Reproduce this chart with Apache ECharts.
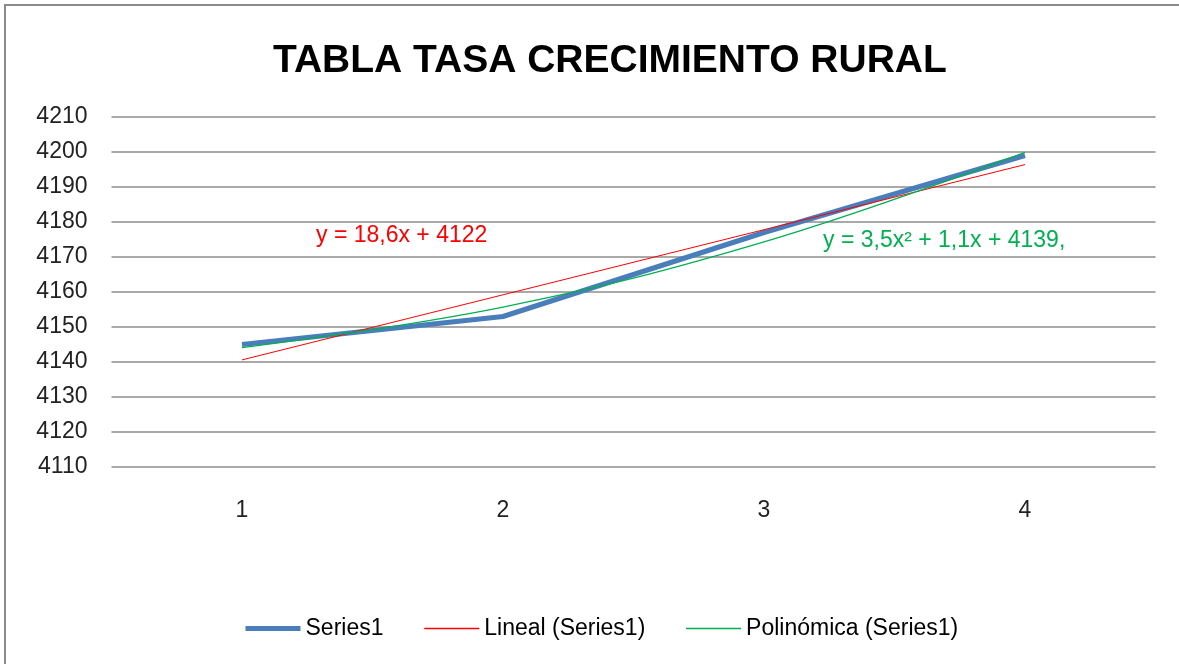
<!DOCTYPE html>
<html>
<head>
<meta charset="utf-8">
<script src="https://cdn.jsdelivr.net/npm/echarts@6/dist/echarts.min.js"></script>
<style>
html,body{margin:0;padding:0;background:#fff;}
#main{width:1179px;height:664px;}
</style>
</head>
<body>
<div id="main"></div>
<script>
var categories = ['1', '2', '3', '4'];
var series1 = [4145, 4153, 4177, 4199];
// trendlines
var lineal = [4140.6, 4159.2, 4177.8, 4196.4];
var polinomica = [4144.1, 4155.7, 4174.3, 4199.9];
var yTicks = {min: 4110, max: 4210, step: 10};

var font = '"Liberation Sans", sans-serif';

var chart = echarts.init(document.getElementById('main'));
var option = {
    animation: false,
    backgroundColor: '#fff',
    title: {
        text: 'TABLA TASA CRECIMIENTO RURAL',
        left: 268,
        top: 37,
        textStyle: {fontFamily: font, fontSize: 39, fontWeight: 'bold', color: '#000'}
    },
    grid: {left: 111.5, right: 23.5, top: 117, bottom: 197},
    legend: {
        bottom: 19,
        left: 238,
        itemGap: 40,
        itemWidth: 55,
        itemHeight: 6,
        itemStyle: {opacity: 0},
        textStyle: {fontFamily: font, fontSize: 23, color: '#000'},
        data: [
            {name: 'Series1', lineStyle: {width: 5}},
            {name: 'Lineal (Series1)', lineStyle: {width: 1.5}},
            {name: 'Polinómica (Series1)', lineStyle: {width: 1.5}}
        ]
    },
    xAxis: {
        type: 'category',
        data: categories,
        boundaryGap: true,
        axisLine: {show: false},
        axisTick: {show: false},
        axisLabel: {margin: 32, fontFamily: font, fontSize: 23, color: '#222'}
    },
    yAxis: {
        type: 'value',
        min: yTicks.min,
        max: yTicks.max,
        interval: yTicks.step,
        axisLine: {show: false},
        axisTick: {show: false},
        axisLabel: {
            margin: 24, fontFamily: font, fontSize: 23, color: '#222',
            formatter: function (v) { return String(v); }
        },
        splitLine: {lineStyle: {color: '#8c8c8c', width: 1.5}}
    },
    series: [{
        name: 'Series1',
        type: 'line',
        data: series1,
        symbol: 'none',
        z: 3,
        lineStyle: {color: '#4a7ebb', width: 5},
        itemStyle: {color: '#4a7ebb'}
    }, {
        name: 'Lineal (Series1)',
        type: 'line',
        data: lineal,
        symbol: 'none',
        z: 4,
        lineStyle: {color: '#ff0000', width: 1},
        itemStyle: {color: '#ff0000'}
    }, {
        name: 'Polinómica (Series1)',
        type: 'line',
        data: polinomica,
        smooth: 0.4,
        symbol: 'none',
        z: 4,
        lineStyle: {color: '#00b050', width: 1.2},
        itemStyle: {color: '#00b050'}
    }],
    graphic: [{
        type: 'rect',
        shape: {x: 5, y: 5, width: 1200, height: 700},
        style: {fill: 'none', stroke: '#8a8a8a', lineWidth: 2},
        silent: true
    }, {
        type: 'text',
        left: 316,
        top: 224,
        style: {text: 'y = 18,6x + 4122', fill: '#ff0000', font: '23px ' + font}
    }, {
        type: 'text',
        left: 823,
        top: 229,
        style: {text: 'y = 3,5x² + 1,1x + 4139,', fill: '#00b050', font: '23px ' + font}
    }]
};
chart.setOption(option);
</script>
</body>
</html>
